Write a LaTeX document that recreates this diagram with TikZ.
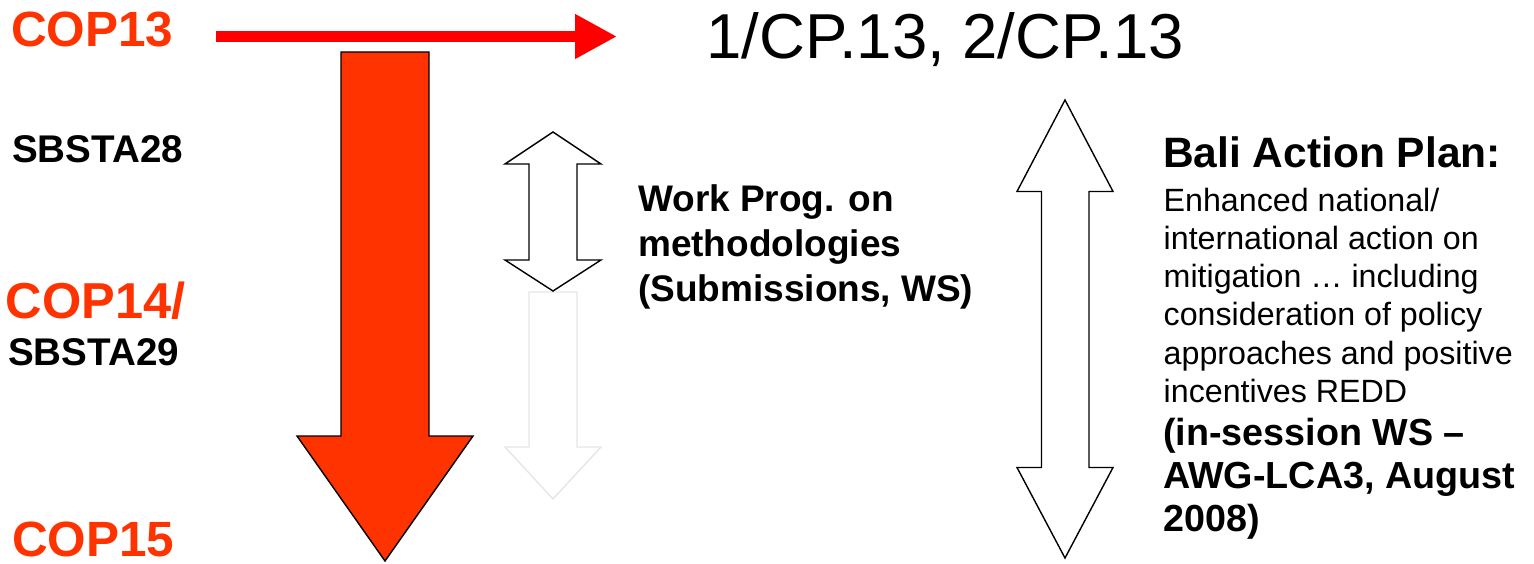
\documentclass[tikz,border=0pt]{standalone}
\usepackage{fontspec}
\setmainfont{Liberation Sans}
\usetikzlibrary{arrows.meta}
\definecolor{copred}{RGB}{255,51,0}
\definecolor{faint}{RGB}{230,230,230}
\tikzset{
  lbl/.style={inner sep=0pt, anchor=base west, font=\fontsize{38.6}{44}\selectfont\bfseries},
  coplbl/.style={inner sep=0pt, anchor=base west, text=copred, font=\fontsize{49.5}{56}\selectfont\bfseries},
  blockarrow/.style={draw=black, line width=1.4pt, line join=miter, fill=white},
  redblock/.style={blockarrow, fill=copred},
  faintarrow/.style={draw=faint, line width=1.4pt, line join=miter, fill=white},
  redarrow/.style={draw=red, line width=11pt, -{Triangle[length=42pt,width=42pt]}},
  txt/.style={inner sep=0pt, anchor=north west, align=left}
}
\begin{document}
\begin{tikzpicture}[x=1pt,y=-1pt]
\useasboundingbox (0,0) rectangle (1534,564);
% left labels
\node[coplbl] (cop13) at (11,47) {COP13};
\node[lbl] (sb28) at (12,163) {SBSTA28};
\node[coplbl, font=\fontsize{50.5}{56}\selectfont\bfseries] (cop14) at (5.5,318) {COP14/};
\node[lbl] (sb29) at (8,365) {SBSTA29};
\node[coplbl] (cop15) at (12,556) {COP15};
% decisions
\node[inner sep=0pt, anchor=base west, font=\fontsize{63.5}{72}\selectfont] (cp) at (706,59) {1/CP.13, 2/CP.13};
% horizontal red arrow
\coordinate (hs) at (216,36.5);
\coordinate (he) at (617,36.5);
\draw[redarrow] (hs) -- (he);
% big red down arrow
\draw[redblock] (341,52) -- (429,52) -- (429,436) -- (473,436) -- (385,561)
  -- (297,436) -- (341,436) -- cycle;
% faint down arrow
\draw[faintarrow] (529,292) -- (577,292) -- (577,447) -- (601,447) -- (553,499)
  -- (505,447) -- (529,447) -- cycle;
% small double arrow
\draw[blockarrow] (553,132) -- (601,164) -- (577,164) -- (577,260) -- (601,260)
  -- (553,291) -- (505,260) -- (529,260) -- (529,164) -- (505,164) -- cycle;
% big double arrow
\draw[blockarrow] (1065,100) -- (1113,191.5) -- (1089,191.5) -- (1089,467.5) -- (1113,467.5)
  -- (1065,558) -- (1017,467.5) -- (1041.5,467.5) -- (1041.5,191.5) -- (1017,191.5) -- cycle;
% work programme text
\node[txt, font=\fontsize{37}{45}\selectfont\bfseries] (wp) at (638,184.5)
  {Work Prog. on\\methodologies\\(Submissions, WS)};
% Bali action plan
\node[inner sep=0pt, anchor=base west, font=\fontsize{42.5}{48}\selectfont\bfseries] (bap) at (1163,168) {Bali Action Plan:};
\node[txt, font=\fontsize{32.2}{38.3}\selectfont] (body) at (1163.5,187.5)
  {Enhanced national/\\international action on\\mitigation \dots\ including\\consideration of policy\\approaches and positive\\incentives REDD};
\node[txt, font=\fontsize{37.7}{43}\selectfont\bfseries] (ws) at (1163,417.5)
  {(in-session WS --\\AWG-LCA3, August\\2008)};
\end{tikzpicture}
\end{document}
